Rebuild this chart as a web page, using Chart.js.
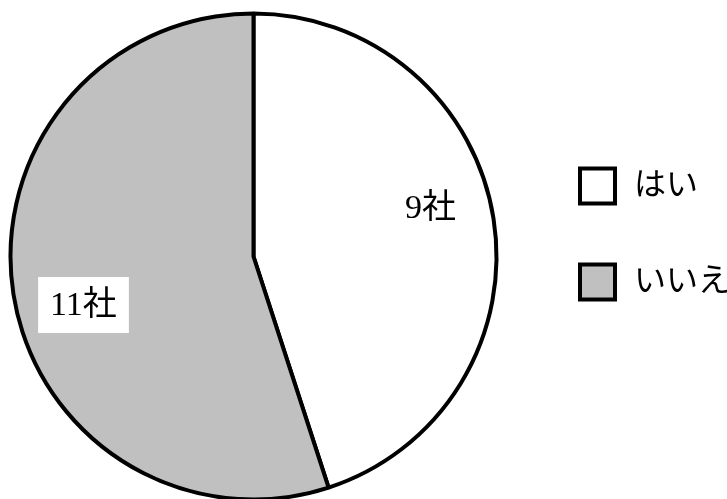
<!DOCTYPE html>
<html lang="ja">
<head>
<meta charset="utf-8">
<script src="https://cdn.jsdelivr.net/npm/chart.js@4.4.1/dist/chart.umd.min.js"></script>
<style>
  html, body { margin: 0; padding: 0; background: #fff; }
  #wrap { width: 727px; height: 499px; position: relative; }
</style>
</head>
<body>
<div id="wrap"><canvas id="my-chart"></canvas></div>
<script>
const answers = ["はい", "いいえ"];
const companies = [9, 11];
const unit = "社";
const sliceColors = ["#FFFFFF", "#C0C0C0"];

const FONT = '"Liberation Serif", "Noto Sans CJK JP", serif';

// value labels inside the slices, anchored on each slice's mid angle
const sliceLabels = {
  id: "sliceLabels",
  afterDatasetsDraw(chart, args, opts) {
    const ctx = chart.ctx;
    const arcs = chart.getDatasetMeta(0).data;
    ctx.save();
    ctx.font = opts.size + "px " + FONT;
    ctx.textAlign = "center";
    ctx.textBaseline = "middle";
    arcs.forEach((arc, i) => {
      const p = arc.getProps(["x", "y", "startAngle", "endAngle", "outerRadius"]);
      const mid = (p.startAngle + p.endAngle) / 2;
      const r = p.outerRadius * opts.dist;
      const x = p.x + Math.cos(mid) * r + opts.shift[i][0];
      const y = p.y + Math.sin(mid) * r + opts.shift[i][1];
      const text = companies[i] + unit;
      if (opts.boxed[i]) {
        const w = ctx.measureText(text).width + 2 * opts.padX;
        const h = opts.size + 2 * opts.padY;
        ctx.fillStyle = "#FFFFFF";
        ctx.fillRect(x - w / 2, y - h / 2, w, h);
      }
      ctx.fillStyle = "#000000";
      ctx.fillText(text, x, y + 1);
    });
    ctx.restore();
  }
};

// legend on the right, one boxed swatch per answer
const sideLegend = {
  id: "sideLegend",
  afterDraw(chart, args, opts) {
    const ctx = chart.ctx;
    ctx.save();
    ctx.font = opts.size + "px " + FONT;
    ctx.textAlign = "left";
    ctx.textBaseline = "middle";
    answers.forEach((label, i) => {
      const cy = opts.top + i * opts.gap;
      const s = opts.box;
      ctx.fillStyle = sliceColors[i];
      ctx.fillRect(opts.left, cy - s / 2, s, s);
      ctx.lineWidth = 4;
      ctx.strokeStyle = "#000000";
      ctx.strokeRect(opts.left, cy - s / 2, s, s);
      ctx.fillStyle = "#000000";
      ctx.fillText(label, opts.left + s + opts.textGap, cy + 1);
    });
    ctx.restore();
  }
};

const data = {
  labels: answers,
  datasets: [
    {
      data: companies,
      backgroundColor: sliceColors,
      borderColor: "#000000",
      borderWidth: 4,
      radius: 243,
    },
  ],
};

const config = {
  type: "pie",
  data: data,
  options: {
    responsive: true,
    maintainAspectRatio: false,
    animation: false,
    layout: {
      padding: { left: 10, right: 230, top: 14, bottom: 0 },
    },
    plugins: {
      legend: { display: false },
      tooltip: { enabled: false },
      sliceLabels: {
        size: 34,
        dist: 0.75,
        shift: [[-3, -20], [10, 20]],
        boxed: [false, true],
        padX: 12,
        padY: 11,
      },
      sideLegend: {
        left: 580,
        top: 186,
        gap: 96,
        box: 35,
        textGap: 19,
        size: 32,
      },
    },
  },
  plugins: [sliceLabels, sideLegend],
};

const myChart = new Chart(document.getElementById("my-chart"), config);
</script>
</body>
</html>
